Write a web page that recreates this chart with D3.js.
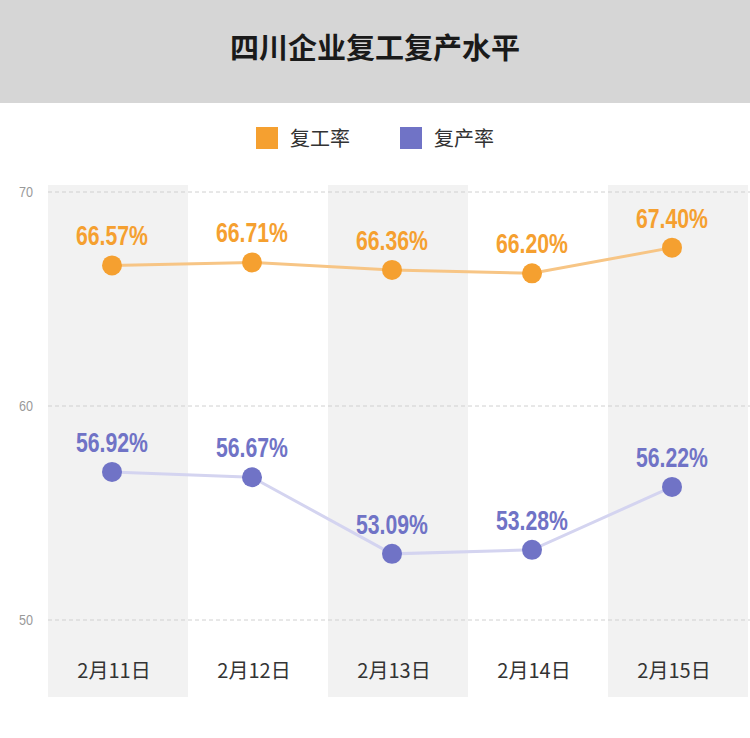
<!DOCTYPE html>
<html><head><meta charset="utf-8">
<script src="https://cdn.jsdelivr.net/npm/d3@7"></script>
<style>body{margin:0;background:#fff}</style>
</head><body><div id="chart"></div>
<script>
var dates = ["2月11日", "2月12日", "2月13日", "2月14日", "2月15日"];
var workRate = [66.57, 66.71, 66.36, 66.20, 67.40];
var prodRate = [56.92, 56.67, 53.09, 53.28, 56.22];
var yTicks = [50, 60, 70];
var seriesNames = ["复工率", "复产率"];

var width = 750, height = 738;
var left = 48, right = 748;
var svg = d3.select("#chart").append("svg").attr("width", width).attr("height", height);

// title bar
svg.append("rect").attr("width", width).attr("height", 103).attr("fill", "#d6d6d6");
svg.append("text").attr("x", 375).attr("y", 59).attr("text-anchor", "middle")
    .style("font", "bold 29px 'Noto Sans CJK SC'").attr("fill", "#1a1a1a").text("四川企业复工复产水平");

// legend
var colors = ["#f5a030", "#7073c6"];
var lineColors = ["#f7c585", "#d4d4f0"];
var legX = [256, 400];
seriesNames.forEach(function (n, i) {
    svg.append("rect").attr("x", legX[i]).attr("y", 127).attr("width", 22).attr("height", 22).attr("fill", colors[i]);
    svg.append("text").attr("x", legX[i] + 34).attr("y", 146)
        .style("font", "20px 'Noto Sans CJK SC'").attr("fill", "#333").text(n);
});

var x = d3.scaleBand().domain(dates).range([left, right]);
var y = d3.scaleLinear().domain([50, 70]).range([620, 192]);
var bottom = 697;

// alternating bands
svg.selectAll(".band").data(dates.filter(function (d, i) { return i % 2 === 0; }))
    .enter().append("rect")
    .attr("x", function (d) { return x(d); }).attr("y", 185)
    .attr("width", x.bandwidth()).attr("height", bottom - 185).attr("fill", "#f2f2f2");

// grid
svg.selectAll(".grid").data(yTicks).enter().append("line")
    .attr("x1", left).attr("x2", 750)
    .attr("y1", function (d) { return y(d); }).attr("y2", function (d) { return y(d); })
    .attr("stroke", "#d0d0d0").attr("stroke-dasharray", "4,3");
svg.selectAll(".ytick").data(yTicks).enter().append("text")
    .attr("x", 26).attr("y", function (d) { return y(d) + 5; }).attr("text-anchor", "middle")
    .style("font", "15px 'Liberation Sans', sans-serif").attr("fill", "#999")
    .attr("textLength", 14).attr("lengthAdjust", "spacingAndGlyphs").text(function (d) { return d; });

// x labels
svg.selectAll(".xl").data(dates).enter().append("text")
    .attr("x", function (d) { return x(d) + x.bandwidth() / 2 - 4; }).attr("y", 678)
    .attr("text-anchor", "middle").style("font", "20px 'Noto Sans CJK SC'").attr("fill", "#333")
    .text(function (d) { return d; });

var px = function (d, i) { return x(dates[i]) + x.bandwidth() / 2 - 6; };
[workRate, prodRate].forEach(function (s, k) {
    svg.append("path").datum(s)
        .attr("d", d3.line().x(px).y(function (d) { return y(d); }))
        .attr("fill", "none").attr("stroke", lineColors[k]).attr("stroke-width", 3);
    svg.selectAll(".pt" + k).data(s).enter().append("circle")
        .attr("cx", px).attr("cy", function (d) { return y(d); }).attr("r", 10).attr("fill", colors[k]);
    svg.selectAll(".lb" + k).data(s).enter().append("text")
        .attr("x", px).attr("y", function (d) { return y(d) - 20; }).attr("text-anchor", "middle")
        .style("font", "bold 28px 'Liberation Sans', sans-serif").attr("fill", colors[k])
        .attr("textLength", 72).attr("lengthAdjust", "spacingAndGlyphs")
        .text(function (d) { return d.toFixed(2) + "%"; });
});
</script></body></html>
